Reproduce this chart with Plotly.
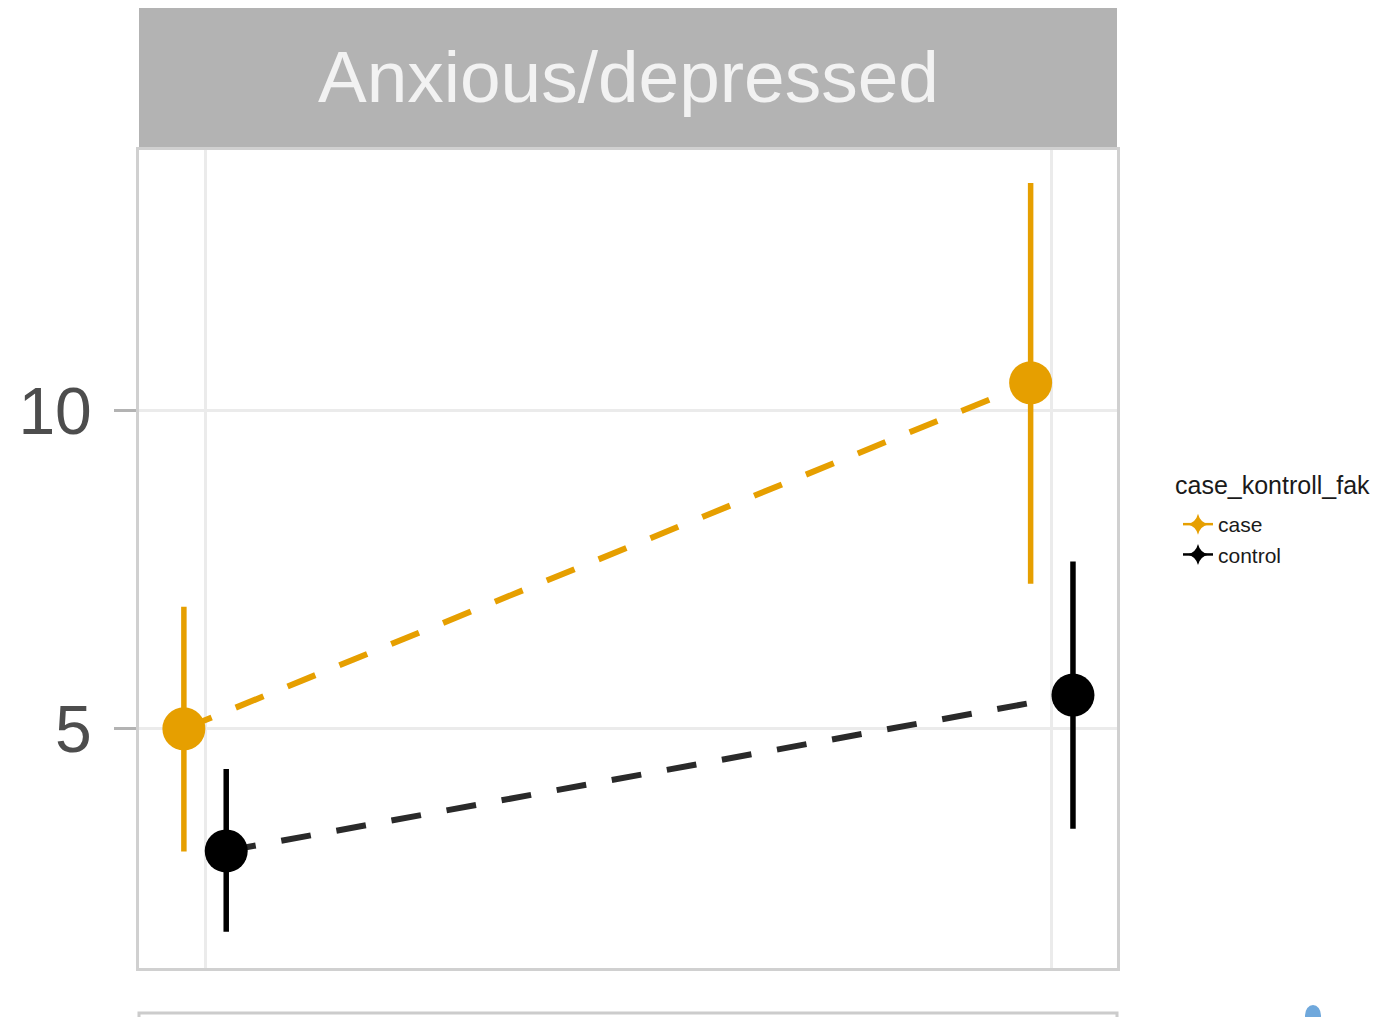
import plotly.graph_objects as go

# ---- data ----
timepoints = ["T1", "T2"]
groups = ["case", "control"]
case_mean = [5.0, 10.44]
case_low = [3.07, 7.28]
case_high = [6.92, 13.58]
control_mean = [3.08, 5.53]
control_low = [1.81, 3.43]
control_high = [4.37, 7.63]
colors = {"case": "#E69F00", "control": "#000000"}
line_colors = {"case": "#E69F00", "control": "#2A2A2A"}
facet_title = "Anxious/depressed"
legend_title = "case_kontroll_fak"

W, H = 1383, 1017
L, R, T, B = 139, 1117, 150, 968  # plot area in px

def px_to_paper_y(py):
    return (B - py) / (B - T)

def px_to_paper_x(px):
    return (px - L) / (R - L)

dodge = {"case": -0.025, "control": 0.025}
series = {
    "case": (case_mean, case_low, case_high),
    "control": (control_mean, control_low, control_high),
}

fig = go.Figure()
for g in groups:
    m, lo, hi = series[g]
    xs = [i + 1 + dodge[g] for i in range(len(timepoints))]
    fig.add_trace(go.Scatter(
        x=xs, y=m, mode="lines", showlegend=False,
        line=dict(color=line_colors[g], width=6, dash="30px,26px"),
        hoverinfo="skip",
    ))
    fig.add_trace(go.Scatter(
        x=xs, y=m, mode="markers", showlegend=False, name=g,
        marker=dict(color=colors[g], size=43, line=dict(width=0)),
        error_y=dict(type="data", symmetric=False,
                     array=[h - v for h, v in zip(hi, m)],
                     arrayminus=[v - l for v, l in zip(m, lo)],
                     color=colors[g], thickness=5.5, width=0),
    ))
    # legend entry
    fig.add_trace(go.Scatter(
        x=[None], y=[None], mode="lines+markers", name=g,
        line=dict(color=colors[g], width=2.5),
        marker=dict(color=colors[g], symbol="star-diamond", size=15),
    ))

# strip
fig.add_shape(type="rect", xref="paper", yref="paper",
              x0=0, x1=1, y0=px_to_paper_y(148), y1=px_to_paper_y(8),
              fillcolor="#B3B3B3", line=dict(width=0), layer="below")
fig.add_annotation(text=facet_title, xref="paper", yref="paper",
                   x=0.5, y=px_to_paper_y(77), xanchor="center", yanchor="middle",
                   showarrow=False,
                   font=dict(family="Liberation Sans, Arial", size=73, color="#F2F2F2"))
# legend title
fig.add_annotation(text=legend_title, xref="paper", yref="paper",
                   x=px_to_paper_x(1173), y=px_to_paper_y(485),
                   xanchor="left", yanchor="middle", showarrow=False,
                   font=dict(family="Liberation Sans, Arial", size=25, color="#1A1A1A"))
# next panel top edge
fig.add_shape(type="rect", xref="paper", yref="paper",
              x0=0, x1=1, y0=px_to_paper_y(1030), y1=px_to_paper_y(1013),
              fillcolor="rgba(0,0,0,0)", line=dict(width=3, color="#CCCCCC"))
fig.add_shape(type="circle", xref="paper", yref="paper",
              x0=px_to_paper_x(1305), x1=px_to_paper_x(1321),
              y0=px_to_paper_y(1026), y1=px_to_paper_y(1005),
              fillcolor="#6FA8DC", line=dict(width=0))

fig.update_layout(
    width=W, height=H,
    margin=dict(l=L, r=W - R, t=T, b=H - B),
    paper_bgcolor="white", plot_bgcolor="white",
    font=dict(family="Liberation Sans, Arial"),
    legend=dict(
        font=dict(size=21, color="#1A1A1A"),
        x=px_to_paper_x(1178), y=px_to_paper_y(504),
        xanchor="left", yanchor="top", itemwidth=30,
        tracegroupgap=0,
    ),
    xaxis=dict(range=[0.922, 2.077], tickvals=[1, 2], showticklabels=False,
               showgrid=True, gridcolor="#EBEBEB", gridwidth=3,
               showline=True, mirror=True, linecolor="#D0D0D0", linewidth=3,
               zeroline=False, ticks=""),
    yaxis=dict(range=[1.24, 14.1], tickvals=[5, 10], ticktext=["5", "10"],
               showgrid=True, gridcolor="#EBEBEB", gridwidth=3,
               showline=True, mirror=True, linecolor="#D0D0D0", linewidth=3,
               zeroline=False, ticks="outside", ticklen=22, tickwidth=3,
               tickcolor="#B3B3B3", ticklabelstandoff=9,
               tickfont=dict(size=66, color="#4D4D4D")),
)

fig.write_html("out.html", config={"displayModeBar": False},
               post_script="document.body.style.margin='0';document.body.style.overflow='hidden';")
